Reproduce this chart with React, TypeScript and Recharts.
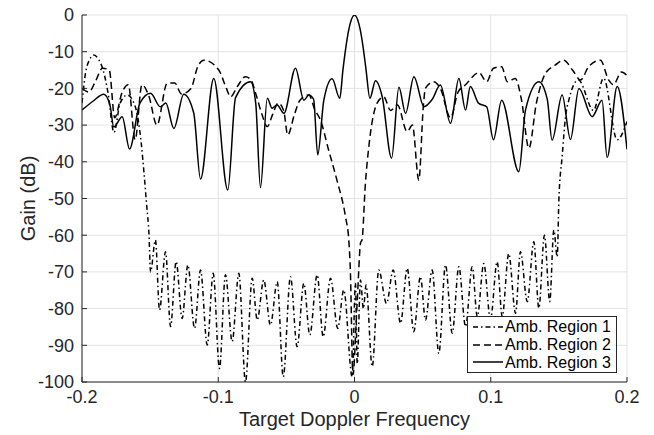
import { CartesianGrid, Label, Line, LineChart, XAxis, YAxis } from "recharts";

// Amb. Region 1 (dash-dot)
const region1Freq = [
  -0.2, -0.1975, -0.1945, -0.1913, -0.188, -0.1845, -0.181, -0.1765, -0.172, -0.1668,
  -0.1625, -0.159, -0.1565, -0.1545, -0.1525, -0.1508, -0.1497, -0.1461, -0.1431, -0.1387,
  -0.135, -0.1309, -0.1265, -0.1223, -0.1174, -0.113, -0.1081, -0.1037, -0.0991, -0.0947,
  -0.0898, -0.0849, -0.08, -0.0751, -0.0714, -0.0666, -0.0617, -0.0567, -0.0523, -0.047,
  -0.0421, -0.0372, -0.0328, -0.0274, -0.023, -0.0176, -0.0123, -0.0079, -0.0017, 0.0007,
  0.002, 0.0044, 0.0065, 0.0085, 0.013, 0.0178, 0.0235, 0.0284, 0.0338, 0.0387,
  0.0435, 0.0484, 0.0521, 0.057, 0.0619, 0.0668, 0.0717, 0.0766, 0.0815, 0.0864,
  0.0901, 0.0949, 0.0998, 0.1047, 0.1084, 0.1132, 0.1182, 0.1218, 0.1268, 0.1316,
  0.1353, 0.1394, 0.1433, 0.1463, 0.1488, 0.15, 0.1524, 0.1549, 0.1573, 0.1644,
  0.1754, 0.1828, 0.1928, 0.2,
];
const region1Gain = [
  -24, -16, -12.2, -10.9, -12, -15, -21, -32, -24, -21.8,
  -23.5, -28, -35, -43, -52, -60, -70, -61.3, -80.4, -64.5,
  -84.9, -67.2, -82.7, -68.1, -85.4, -69.5, -89.9, -70.4, -96.3, -70.8,
  -89, -70.4, -100, -71.7, -83.1, -72.2, -84.5, -72.7, -98.6, -71.3,
  -90.4, -73.1, -87.2, -70.8, -87.7, -71.7, -85.4, -74.9, -98.6, -73,
  -95, -72.2, -80, -73.6, -95.8, -69.5, -78.6, -69.5, -84, -69,
  -86.3, -71.3, -83.1, -69.5, -92.2, -68.1, -86.7, -68.6, -84.9, -68.6,
  -82.2, -67.7, -83, -67.2, -82.2, -65, -81.3, -64.5, -78.1, -61.8,
  -79.9, -60, -78.1, -58.6, -65.9, -50.4, -38.6, -27.7, -23.2, -17.7,
  -26, -17.2, -34, -29,
];

// Amb. Region 2 (dashed)
const region2Freq = [
  -0.2, -0.195, -0.19, -0.185, -0.18, -0.176, -0.1705, -0.166, -0.161, -0.156,
  -0.151, -0.145, -0.1375, -0.132, -0.127, -0.12, -0.115, -0.1105, -0.0996, -0.094,
  -0.091, -0.086, -0.08, -0.076, -0.072, -0.068, -0.064, -0.06, -0.056, -0.052,
  -0.049, -0.044, -0.04, -0.0335, -0.029, -0.025, -0.019, -0.0129, -0.0066, -0.0042,
  -0.003, -0.0012, 0.002, 0.0045, 0.0055, 0.008, 0.0105, 0.0166, 0.0215, 0.0265,
  0.0315, 0.0387, 0.0425, 0.0472, 0.0505, 0.052, 0.058, 0.063, 0.0705, 0.076,
  0.0815, 0.0913, 0.097, 0.102, 0.108, 0.1122, 0.118, 0.1225, 0.128, 0.1335,
  0.14, 0.1475, 0.1536, 0.16, 0.1659, 0.172, 0.1805, 0.1865, 0.19, 0.196,
  0.2,
];
const region2Gain = [
  -20, -21, -18, -14.5, -15, -28, -21, -19, -34, -19,
  -22, -30, -18.6, -18.5, -21.5, -20, -14, -12.3, -15, -20,
  -22.3, -19.5, -16.8, -17.7, -22, -27, -30.4, -27, -24, -26,
  -32.7, -27, -23.2, -21.8, -25.9, -28.6, -36.8, -45, -55, -61.3,
  -70, -98, -78, -62, -61.3, -45.9, -35.9, -24, -22.3, -26,
  -24.5, -31.8, -30, -45, -25, -20, -18.2, -20, -28, -21,
  -19, -15.7, -18.2, -14.5, -14.1, -18.2, -17.3, -23, -36.3, -24,
  -16, -13.6, -12.3, -15, -17.7, -14, -12.3, -17.7, -19, -15.5,
  -16.5,
];

// Amb. Region 3 (solid)
const region3Freq = [
  -0.2, -0.192, -0.184, -0.1795, -0.1767, -0.1705, -0.1651, -0.1575, -0.1497, -0.1425,
  -0.1385, -0.1326, -0.1253, -0.118, -0.113, -0.1033, -0.093, -0.0873, -0.0763, -0.0725,
  -0.069, -0.064, -0.0605, -0.0568, -0.0518, -0.0433, -0.0372, -0.0335, -0.03, -0.027,
  -0.0225, -0.0164, -0.0108, -0.0085, -0.0066, -0.0042, 0, 0.0042, 0.0066, 0.0085,
  0.0113, 0.0154, 0.0203, 0.0272, 0.0326, 0.0375, 0.0436, 0.051, 0.057, 0.063,
  0.0705, 0.0766, 0.0815, 0.085, 0.091, 0.097, 0.102, 0.108, 0.1206, 0.1255,
  0.1353, 0.1415, 0.145, 0.1524, 0.1585, 0.1647, 0.1744, 0.1817, 0.1854, 0.1928,
  0.2,
];
const region3Gain = [
  -25.9, -23.5, -21.6, -24.5, -30.5, -27.7, -36.5, -24, -21.3, -25,
  -24, -30.9, -21.6, -26.7, -44.7, -17.3, -47.7, -22.5, -18.2, -24,
  -47, -22.7, -25.4, -24.5, -26.8, -14.5, -23.2, -21.8, -23, -38.1,
  -23.2, -17.4, -22.7, -15, -9.5, -4, 0, -4, -9.5, -15,
  -22.7, -17.9, -22.2, -39, -19.7, -26.8, -16.8, -25, -23, -19.1,
  -29.5, -17.3, -25.9, -19.5, -24, -25, -34, -23.2, -42.7, -25.9,
  -18.2, -23, -34.1, -21.8, -33.9, -20, -27.7, -23.2, -38.8, -19.5,
  -36.6,
];

const freqTicks = [-0.2, -0.1, 0, 0.1, 0.2];
const gainTicks = [0, -10, -20, -30, -40, -50, -60, -70, -80, -90, -100];

const toPoints = (freq: number[], gain: number[]) =>
  freq.map((f, i) => ({ f, g: gain[i] }));

const region1 = toPoints(region1Freq, region1Gain);
const region2 = toPoints(region2Freq, region2Gain);
const region3 = toPoints(region3Freq, region3Gain);

const INK = "#262626";
const FONT = "'Liberation Sans', Arial, Helvetica, sans-serif";

const series = [
  { name: "Amb. Region 1", data: region1, dash: "5 3 1.5 3" },
  { name: "Amb. Region 2", data: region2, dash: "7 4" },
  { name: "Amb. Region 3", data: region3, dash: undefined },
];

function LegendBox() {
  return (
    <div
      style={{
        position: "absolute",
        left: 467,
        top: 316,
        width: 150,
        height: 57,
        border: `1px solid ${INK}`,
        background: "#fff",
        fontFamily: FONT,
        fontSize: 16,
        color: "#000",
        boxSizing: "border-box",
        paddingTop: 1,
      }}
    >
      {series.map((s) => (
        <div key={s.name} style={{ display: "flex", alignItems: "center", height: 17.7 }}>
          <svg width={33} height={10} style={{ marginLeft: 4 }}>
            <line x1={1} y1={5} x2={31} y2={5} stroke="#000" strokeWidth={1.5} strokeDasharray={s.dash} />
          </svg>
          <span style={{ lineHeight: "17px" }}>{s.name}</span>
        </div>
      ))}
    </div>
  );
}

export default function App() {
  return (
    <div style={{ position: "absolute", left: 0, top: 0, width: 654, height: 435, background: "#fff" }}>
      <LineChart width={654} height={435} margin={{ top: 15, right: 27, bottom: 0, left: 0 }}>
        <CartesianGrid stroke="#e3e3e3" strokeWidth={1} />
        <XAxis
          type="number"
          dataKey="f"
          domain={[-0.2, 0.2]}
          ticks={freqTicks}
          allowDataOverflow
          height={53}
          stroke={INK}
          tickSize={-5}
          tickMargin={13}
          tick={{ fill: INK, fontSize: 18, fontFamily: FONT }}
          tickFormatter={(v: number) => String(v)}
        >
          <Label
            value="Target Doppler Frequency"
            position="insideBottom"
            offset={9}
            style={{ fill: INK, fontSize: 20, fontFamily: FONT }}
          />
        </XAxis>
        <YAxis
          type="number"
          domain={[-100, 0]}
          ticks={gainTicks}
          allowDataOverflow
          width={82}
          stroke={INK}
          tickSize={-5}
          tickMargin={13}
          tick={{ fill: INK, fontSize: 18, fontFamily: FONT }}
        >
          <Label
            value="Gain (dB)"
            angle={-90}
            position="center"
            dx={-13}
            style={{ fill: INK, fontSize: 20, fontFamily: FONT, textAnchor: "middle" }}
          />
        </YAxis>
        {series.map((s) => (
          <Line
            key={s.name}
            data={s.data}
            dataKey="g"
            name={s.name}
            type="monotone"
            stroke="#000"
            strokeWidth={1.5}
            strokeDasharray={s.dash}
            dot={false}
            activeDot={false}
            isAnimationActive={false}
          />
        ))}
      </LineChart>
      <LegendBox />
    </div>
  );
}
